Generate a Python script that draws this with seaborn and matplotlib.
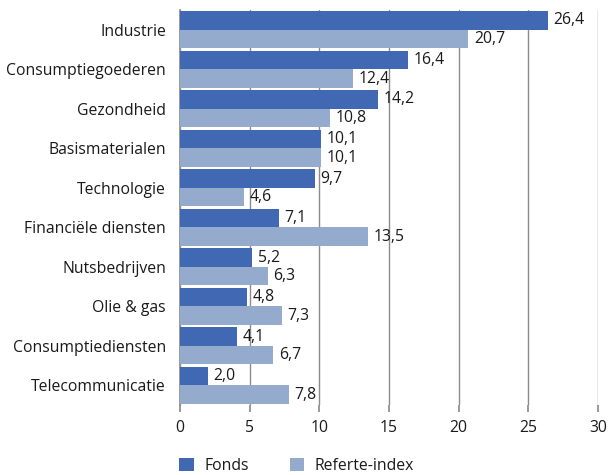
import matplotlib

matplotlib.use("Agg")

import matplotlib.pyplot as plt  # noqa: E402
import pandas as pd  # noqa: E402
import seaborn as sns  # noqa: E402

SECTORS = [
    "Industrie",
    "Consumptiegoederen",
    "Gezondheid",
    "Basismaterialen",
    "Technologie",
    "Financiële diensten",
    "Nutsbedrijven",
    "Olie & gas",
    "Consumptiediensten",
    "Telecommunicatie",
]
FONDS = [26.4, 16.4, 14.2, 10.1, 9.7, 7.1, 5.2, 4.8, 4.1, 2.0]
REFERTE = [20.7, 12.4, 10.8, 10.1, 4.6, 13.5, 6.3, 7.3, 6.7, 7.8]
SERIES = ["Fonds", "Referte-index"]
COLORS = ["#4169b3", "#95abcd"]
TICKS = [0, 5, 10, 15, 20, 25, 30]

FS = 11.3

sns.set_theme(style="white")
plt.rcParams["font.family"] = ["Open Sans", "DejaVu Sans"]

df = pd.DataFrame({
    "sector": SECTORS * 2,
    "value": FONDS + REFERTE,
    "series": [SERIES[0]] * len(SECTORS) + [SERIES[1]] * len(SECTORS),
})

fig = plt.figure(figsize=(6.1, 4.75), dpi=100)
ax = fig.add_axes([0.295, 0.147, 0.685, 0.832])

sns.barplot(
    data=df, x="value", y="sector", hue="series", order=SECTORS,
    hue_order=SERIES, palette=COLORS, width=0.94, saturation=1,
    linewidth=0, ax=ax, zorder=3,
)

for container in ax.containers:
    ax.bar_label(
        container,
        labels=[f"{v:.1f}".replace(".", ",") for v in container.datavalues],
        padding=4, fontsize=FS, color="#1a1a1a",
    )

ax.set_xlim(0, 30)
ax.set_ylim(len(SECTORS) - 0.5, -0.5)
ax.set_xticks(TICKS)
ax.set_xticklabels([str(t) for t in TICKS], fontsize=FS, color="#1a1a1a")
ax.tick_params(axis="y", labelsize=FS, labelcolor="#1a1a1a", length=0, pad=10)
ax.tick_params(axis="x", length=5, color="#8c8c8c", direction="out", pad=6, bottom=True)
ax.xaxis.grid(True, color="#8c8c8c", linewidth=1.0, zorder=0)
ax.set_xlabel("")
ax.set_ylabel("")
for side in ["top", "right", "bottom"]:
    ax.spines[side].set_visible(False)
ax.spines["left"].set_color("#8c8c8c")

leg = ax.legend(
    loc="lower left", bbox_to_anchor=(-0.035, -0.21), ncol=2, frameon=False,
    fontsize=FS, handlelength=0.9, handleheight=0.9, columnspacing=2.6,
    handletextpad=0.7,
)
for text in leg.get_texts():
    text.set_color("#1a1a1a")

fig.savefig("out.png", dpi=100)
